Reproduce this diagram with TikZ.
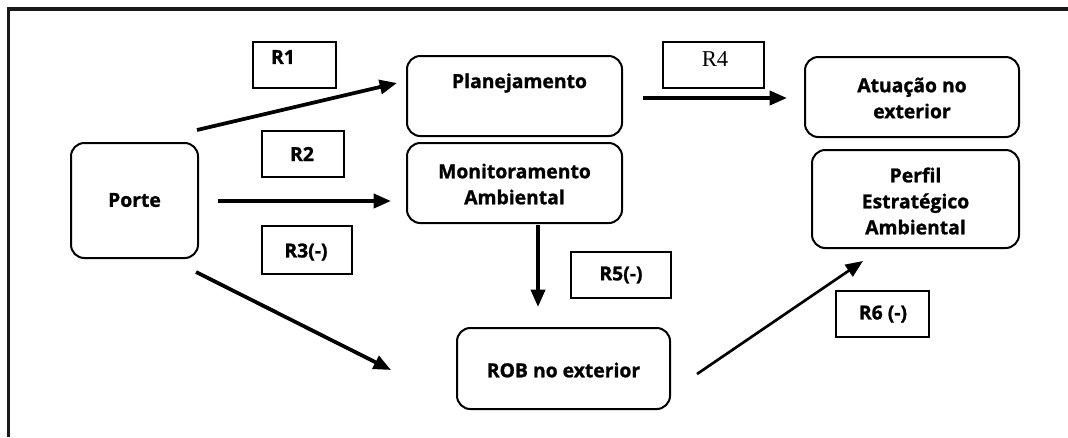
\documentclass[tikz,border=0pt]{standalone}
\usepackage{fontspec}
\setsansfont{Open Sans}[BoldFeatures={FakeBold=1.2}]
\newfontfamily\serifR{Liberation Serif}
\usetikzlibrary{arrows.meta}
\begin{document}
\begin{tikzpicture}[x=0.75pt,y=-0.75pt,
  rbox/.style={draw=black, line width=1.5pt, rounded corners=10pt, inner sep=0pt},
  lbox/.style={draw=black, line width=1.4pt, inner sep=0pt, minimum height=34.5pt},
  txt/.style={font=\sffamily\bfseries\fontsize{14.5}{19.5}\selectfont, align=center, inner sep=0pt},
  rtxt/.style={font=\serifR\fontsize{17}{19}\selectfont, inner sep=0pt},
  arr/.style={line width=2.8pt, -{Triangle[length=13pt,width=10.5pt]}},
  frame/.style={draw=black!90, line width=2.3pt}]
\useasboundingbox (0,0) rectangle (1068,437);
% frame (top and left)
\coordinate (ftr) at (1068,9);
\coordinate (ftl) at (8.5,9);
\coordinate (fbl) at (8.5,437);
\draw[frame] (ftr) -- (ftl) -- (fbl);
% boxes
\node[rbox, minimum width=95.25pt, minimum height=86.25pt] (porte) at (134.5,200.5) {};
\node[txt] (portet) at (134.5,200) {Porte};
\node[rbox, minimum width=161.25pt, minimum height=60pt] (plan) at (514.5,96) {};
\node[txt] (plant) at (519.5,83) {Planejamento};
\node[rbox, minimum width=161.25pt, minimum height=60pt] (mon) at (514.5,183) {};
\node[txt] (mont) at (514.5,184) {Monitoramento\\Ambiental};
\node[rbox, minimum width=160.5pt, minimum height=60pt] (atu) at (912,97) {};
\node[txt] (atut) at (912,98) {Atuação no\\exterior};
\node[rbox, minimum width=155.25pt, minimum height=73.5pt] (perf) at (915.5,199) {};
\node[txt] (perft) at (915.5,201) {Perfil\\Estratégico\\Ambiental};
\node[rbox, minimum width=159.75pt, minimum height=60.75pt] (rob) at (563.5,368.5) {};
\node[txt] (robt) at (563.5,370) {ROB no exterior};
% label boxes
\node[lbox, minimum width=62.25pt] (r1) at (294.5,65) {};
\node[txt] (r1t) at (283,57) {R1};
\node[lbox, minimum width=61.5pt] (r2) at (303,154) {};
\node[txt] (r2t) at (302,154) {R2};
\node[lbox, minimum width=67.5pt, minimum height=36pt] (r3) at (307,250) {};
\node[txt] (r3t) at (306,252) {R3(-)};
\node[lbox, minimum width=75.75pt] (r4) at (713.5,65) {};
\node[rtxt] (r4t) at (715,59) {R4};
\node[lbox, minimum width=75pt] (r5) at (621,275) {};
\node[txt] (r5t) at (621,275) {R5(-)};
\node[lbox, minimum width=69.75pt] (r6) at (882.5,314) {};
\node[txt] (r6t) at (883,314) {R6 (-)};
% arrow ends
\coordinate (a1s) at (197,130); \coordinate (a1e) at (397,83);
\coordinate (a2s) at (218,201); \coordinate (a2e) at (391,201);
\coordinate (a3s) at (196,272); \coordinate (a3e) at (391,370);
\coordinate (a4s) at (643,98);  \coordinate (a4e) at (787,98);
\coordinate (a5s) at (538,225); \coordinate (a5e) at (538,307);
\coordinate (a6s) at (697,374); \coordinate (a6e) at (863,261);
\draw[arr] (a1s) -- (a1e);
\draw[arr] (a2s) -- (a2e);
\draw[arr] (a3s) -- (a3e);
\draw[arr] (a4s) -- (a4e);
\draw[arr] (a5s) -- (a5e);
\draw[arr, line width=2pt] (a6s) -- (a6e);
\end{tikzpicture}
\end{document}
